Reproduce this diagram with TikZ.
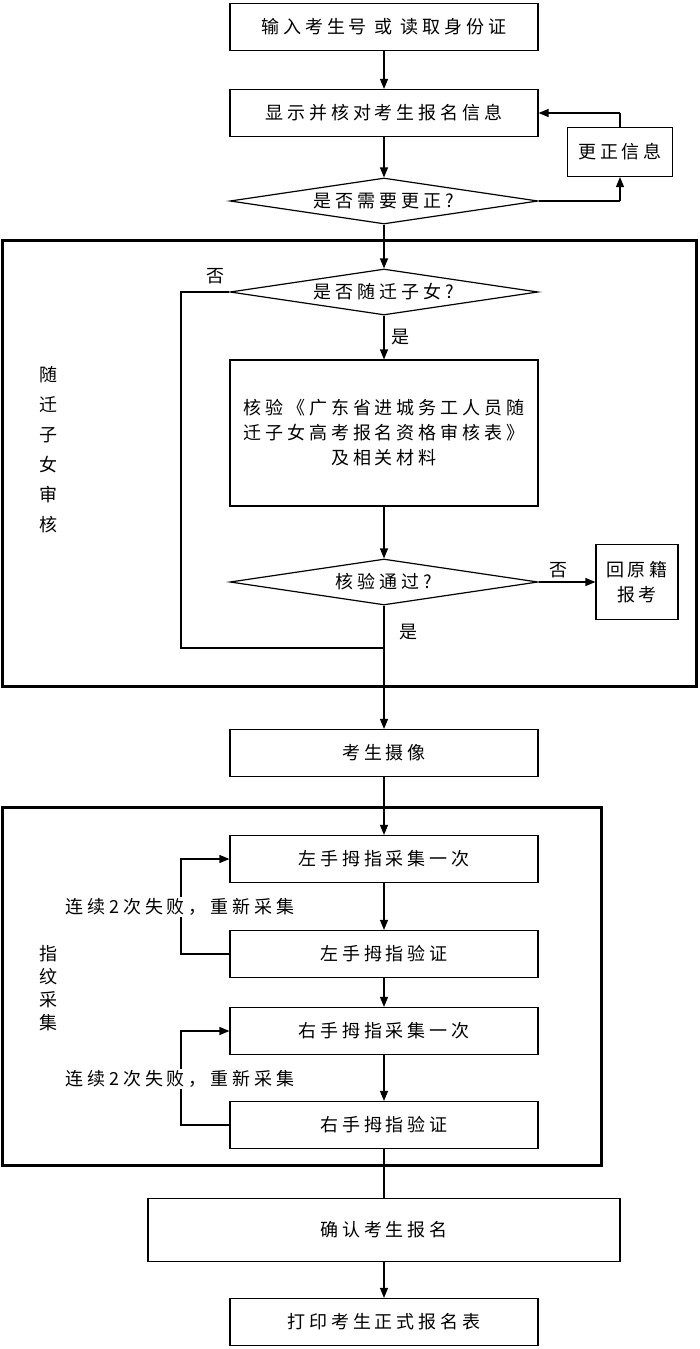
\documentclass[tikz,border=0pt]{standalone}
\usepackage{fontspec}
\setmainfont[LetterSpace=22]{Noto Sans CJK SC}
\usetikzlibrary{shapes.geometric,arrows.meta}
\begin{document}
\begin{tikzpicture}[x=1pt,y=-1pt,
  bx/.style={draw,line width=1.2pt,minimum height=47pt,inner sep=0pt,font=\fontsize{18}{25}\selectfont},
  dm/.style={draw,line width=1.2pt,diamond,aspect=7,minimum width=308pt,minimum height=46pt,inner sep=0pt,font=\fontsize{18}{20}\selectfont},
  ar/.style={line width=1.2pt,-{Triangle[length=10pt,width=8pt]}},
  ln/.style={line width=1.2pt},
  lb/.style={font=\fontsize{18}{20}\selectfont},
  fr/.style={draw,line width=3pt}]
\useasboundingbox (0,0) rectangle (700,1349);
\node[bx,minimum width=308pt] (b1) at (384,27) {输入考生号\ 或\ 读取身份证};
\node[bx,minimum width=308pt] (b2) at (384,113) {显示并核对考生报名信息};
\node[dm] (d1) at (384,201) {是否需要更正?};
\node[bx,minimum width=105pt,minimum height=49pt] (fix) at (620,152) {更正信息};
\draw[fr] (2,240) rectangle (696,686);
\node[dm] (d2) at (384,292) {是否随迁子女?};
\node[bx,minimum width=308pt,minimum height=146pt,align=center] (b3) at (384,433) {核验《广东省进城务工人员随\\迁子女高考报名资格审核表》\\及相关材料};
\node[dm] (d3) at (384,582) {核验通过?};
\node[bx,minimum width=82pt,minimum height=75pt,align=center] (back) at (637,582) {回原籍\\报考};
\node[lb,align=center] (v1) at (48,450) {随\\[10pt]迁\\[10pt]子\\[10pt]女\\[10pt]审\\[10pt]核};
\node[bx,minimum width=308pt] (b4) at (384,753) {考生摄像};
\draw[fr] (2,807) rectangle (601,1165);
\node[bx,minimum width=308pt] (b5) at (384,859) {左手拇指采集一次};
\node[bx,minimum width=308pt] (b6) at (384,954) {左手拇指验证};
\node[bx,minimum width=308pt] (b7) at (384,1031) {右手拇指采集一次};
\node[bx,minimum width=308pt] (b8) at (384,1125) {右手拇指验证};
\node[lb,align=center] (v2) at (48,988) {指\\[3pt]纹\\[3pt]采\\[3pt]集};
\node[bx,minimum width=472pt,minimum height=63pt] (b9) at (384,1230) {确认考生报名};
\node[bx,minimum width=308pt] (b10) at (384,1322) {打印考生正式报名表};
\coordinate (c1) at (620,201);
\coordinate (c2) at (620,113);
\coordinate (c3) at (181,292);
\coordinate (c4) at (181,648);
\coordinate (c5) at (384,648);
\coordinate (l1a) at (181,954);
\coordinate (l1b) at (181,859);
\coordinate (l2a) at (181,1125);
\coordinate (l2b) at (181,1031);
\draw[ar] (b1) -- (b2);
\draw[ar] (b2) -- (d1);
\draw[ln] (d1.east) -- (c1);
\draw[ar] (c1) -- (fix.south);
\draw[ln] (fix.north) -- (c2);
\draw[ar] (c2) -- (b2.east);
\draw[ar] (d1) -- (d2);
\draw[ar] (d2) -- (b3) node[lb,pos=0.5,right=4pt] {是};
\draw[ar] (b3) -- (d3);
\draw[ar] (d3.east) -- (back.west) node[lb,pos=0.35,above] {否};
\draw[ln] (d2.west) -- (c3) -- (c4) -- (c5);
\node[lb] (no2) at (215,276) {否};
\node[lb] (yes3) at (408,632) {是};
\draw[ar] (d3.south) -- (b4);
\draw[ar] (b4) -- (b5);
\draw[ar] (b5) -- (b6);
\draw[ar] (b6) -- (b7);
\draw[ar] (b7) -- (b8);
\draw[ar] (b6.west) -- (l1a) -- (l1b) -- (b5.west);
\draw[ar] (b8.west) -- (l2a) -- (l2b) -- (b7.west);
\node[lb,fill=white,inner sep=1pt] (t1) at (180,907) {连续2次失败，重新采集};
\node[lb,fill=white,inner sep=1pt] (t2) at (180,1079) {连续2次失败，重新采集};
\draw[ln] (b8) -- (b9);
\draw[ar] (b9) -- (b10);
\end{tikzpicture}
\end{document}
